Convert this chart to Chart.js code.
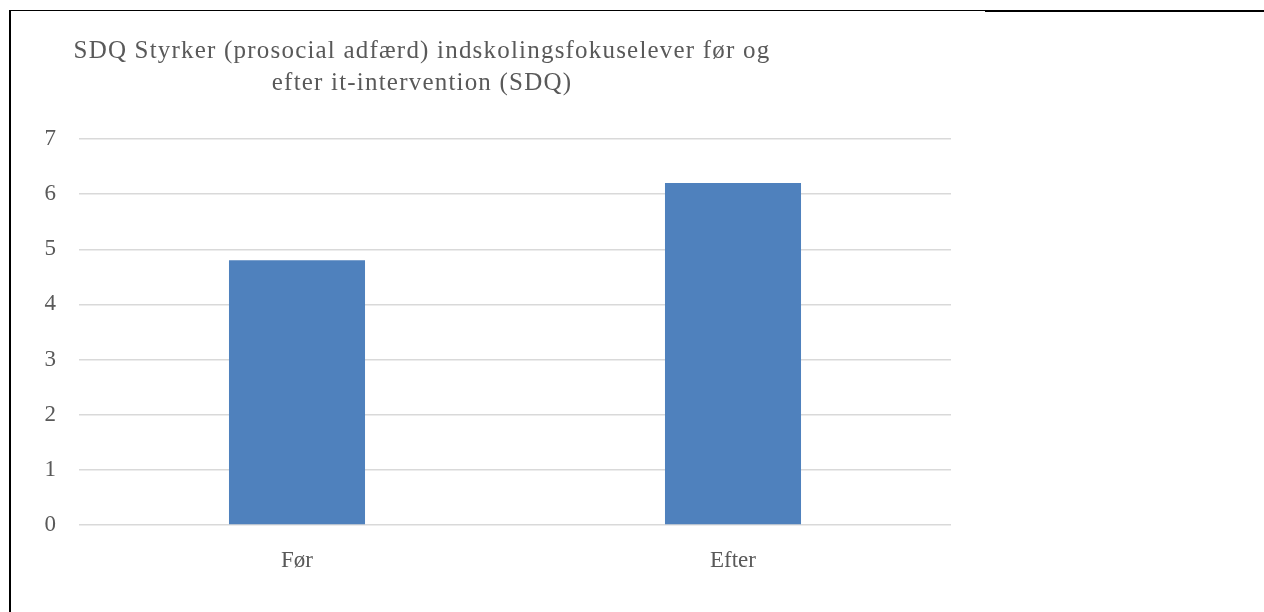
<!DOCTYPE html>
<html>
<head>
<meta charset="utf-8">
<script src="https://cdn.jsdelivr.net/npm/chart.js@4"></script>
<style>
  html, body { margin: 0; padding: 0; background: #fff; }
  #wrap { position: relative; width: 1264px; height: 612px; overflow: hidden; }
  #chart { position: absolute; left: 0; top: 0; }
  .title {
    position: absolute; left: 0; top: 34px; width: 844px;
    text-align: center; font-family: "Liberation Serif", serif;
    font-size: 25px; line-height: 32px; color: #595959; letter-spacing: 1.2px;
  }
  .lineLeft { position: absolute; left: 9px; top: 10px; width: 2px; height: 602px; background: #000; }
  .lineTop { position: absolute; left: 9px; top: 10px; width: 976px; height: 1px; background: #000; }
  .lineTop2 { position: absolute; left: 985px; top: 10px; width: 279px; height: 2px; background: #000; }
</style>
</head>
<body>
<div id="wrap">
  <canvas id="chart" width="1264" height="612"></canvas>
  <div class="lineLeft"></div>
  <div class="lineTop"></div>
  <div class="lineTop2"></div>
  <div class="title">SDQ Styrker (prosocial adfærd) indskolingsfokuselever før og<br>efter it-intervention (SDQ)</div>
</div>
<script>
const categories = ['Før', 'Efter'];
const scores = [4.8, 6.2];
const yTicks = [0, 1, 2, 3, 4, 5, 6, 7];

const textColor = '#595959';
const font = { family: '"Liberation Serif", serif', size: 23 };

const config = {
  type: 'bar',
  data: {
    labels: categories,
    datasets: [{
      label: 'SDQ',
      data: scores,
      backgroundColor: '#4f81bd',
      borderWidth: 0,
      categoryPercentage: 1,
      barPercentage: 0.312
    }]
  },
  options: {
    responsive: false,
    animation: false,
    layout: { padding: { left: 0, top: 139, right: 313, bottom: 0 } },
    plugins: {
      legend: { display: false },
      title: { display: false },
      tooltip: { enabled: false }
    },
    scales: {
      x: {
        grid: { display: false },
        border: { display: false },
        ticks: { color: textColor, font: font, padding: 14 },
        afterFit: (scale) => { scale.height = 87; }
      },
      y: {
        min: 0,
        max: 7,
        afterBuildTicks: (scale) => { scale.ticks = yTicks.map(v => ({ value: v })); },
        grid: { color: '#d9d9d9', lineWidth: 1.5, drawTicks: false },
        border: { display: false },
        ticks: { color: textColor, font: font, padding: 23 },
        afterFit: (scale) => { scale.width = 79; }
      }
    }
  }
};

new Chart(document.getElementById('chart'), config);
</script>
</body>
</html>
